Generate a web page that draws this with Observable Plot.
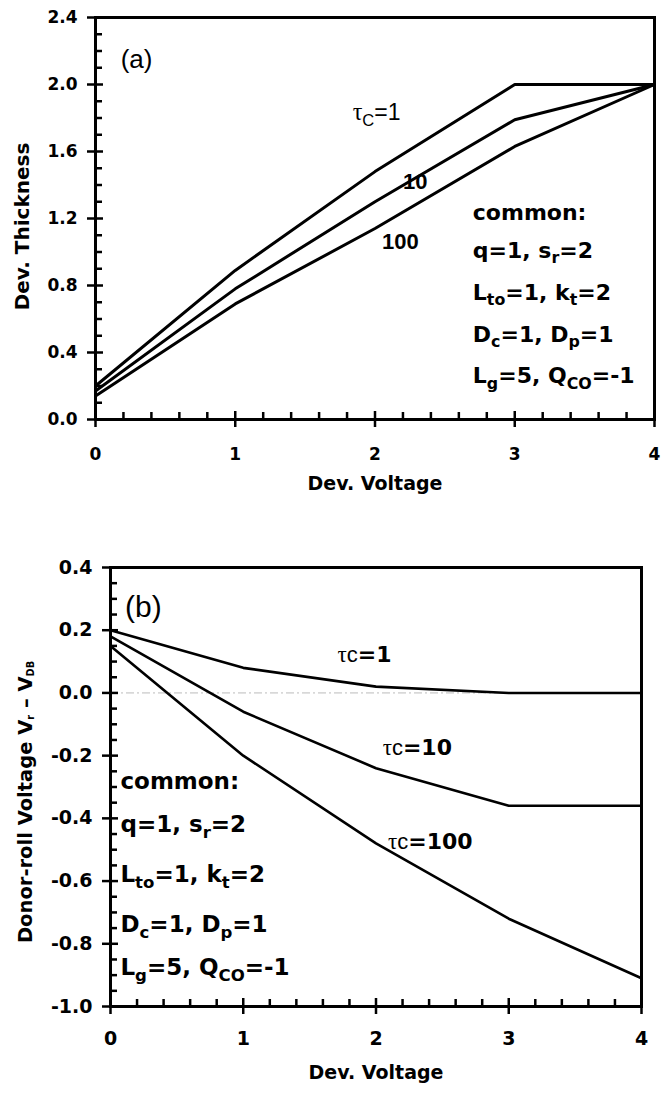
<!DOCTYPE html>
<html><head><meta charset="utf-8">
<script src="https://cdn.jsdelivr.net/npm/d3@7"></script>
<script src="https://cdn.jsdelivr.net/npm/@observablehq/plot@0.6"></script>
<style>
body{margin:0;background:#fff;}
#chart{width:664px;}
svg{display:block;}
</style></head><body><div id="chart"></div>
<script>
// ---- data ----
const voltage = [0, 1, 2, 3, 4];
const tauNames = ["1", "10", "100"];
// panel (a): Dev. Thickness
const thickTau1   = [0.20, 0.89, 1.48, 2.00, 2.00];
const thickTau10  = [0.17, 0.78, 1.30, 1.79, 2.00];
const thickTau100 = [0.14, 0.69, 1.14, 1.63, 2.00];
// panel (b): Donor-roll voltage
const donorTau1   = [0.20, 0.08, 0.02, 0.00, 0.00];
const donorTau10  = [0.18, -0.06, -0.24, -0.36, -0.36];
const donorTau100 = [0.15, -0.20, -0.48, -0.72, -0.91];
// tick labels
const xTicks = [0, 1, 2, 3, 4];
const thickTicks = [0, 0.4, 0.8, 1.2, 1.6, 2.0, 2.4];
const donorTicks = [-1.0, -0.8, -0.6, -0.4, -0.2, 0, 0.2, 0.4];
// texts
const commonLines = ["common:", "q=1, s_{r}=2", "L_{to}=1, k_{t}=2", "D_{c}=1, D_{p}=1", "L_{g}=5, Q_{CO}=-1"];
const topTau1Label = "@{τ}_{C}=1";
const topTauOther = ["10", "100"];
const botTauLabels = ["@{τ}~{c}=1", "@{τ}~{c}=10", "@{τ}~{c}=100"];
// annotation anchors (data units)
const topTau1Anchor = [1.84, 1.83];
const topTauOtherAnchors = [[2.20, 1.42], [2.05, 1.057]];
const topCommonX = 2.70, topCommonY = [1.236, 1.009, 0.758, 0.507, 0.257];
const botTauAnchors = [[1.71, 0.121], [2.05, -0.175], [2.09, -0.475]];
const botCommonX = 0.075, botCommonY = [-0.284, -0.421, -0.581, -0.740, -0.877];

function table(ys, name) { return voltage.map((v, i) => ({x: v, y: ys[i], tau: name})); }
const thickData = [thickTau1, thickTau10, thickTau100].flatMap((s, k) => table(s, tauNames[k]));
const donorData = [donorTau1, donorTau10, donorTau100].flatMap((s, k) => table(s, tauNames[k]));

function minor(lo, hi, step, majors) {
  const n = Math.round((hi - lo) / step);
  const out = [];
  for (let i = 0; i <= n; i++) {
    const v = +(lo + i * step).toFixed(4);
    if (!majors.some(m => Math.abs(m - v) < 1e-6)) out.push(v);
  }
  return out;
}
const xMinor = minor(0, 4, 0.2, xTicks);
const thickMinor = minor(0, 2.4, 0.1, thickTicks);
const donorMinor = minor(-1.0, 0.4, 0.05, donorTicks);

const SANS = "'Liberation Sans', Arial, sans-serif";
const DJ = "'DejaVu Sans', sans-serif";

// tick labels through Plot axes
function axisLabels(yTicks, fs, txPad, tyPad) {
  return [
    Plot.axisX(xTicks, {tickSize: 0, tickPadding: txPad, tickFormat: d => String(d), fontSize: fs, fontWeight: "bold", fontFamily: DJ, label: null}),
    Plot.axisY(yTicks, {tickSize: 0, tickPadding: tyPad, tickFormat: d => d.toFixed(1), fontSize: fs, fontWeight: "bold", fontFamily: DJ, label: null})
  ];
}
// tick marks: rules inset from the frame (majors cross the axis, minors point inward)
function tickMarks(yTicks, yMinor, fw, fh) {
  return [
    Plot.ruleX(xTicks, {x: d => d, insetTop: fh - 16, dy: 8, stroke: "black", strokeWidth: 2.5}),
    Plot.ruleX(xMinor, {x: d => d, insetTop: fh - 7, stroke: "black", strokeWidth: 2.5}),
    Plot.ruleY(yTicks, {y: d => d, insetRight: fw - 16, dx: -8, stroke: "black", strokeWidth: 2.5}),
    Plot.ruleY(yMinor, {y: d => d, insetRight: fw - 7, stroke: "black", strokeWidth: 2.5})
  ];
}

// ---- panel (a) ----
const T = {w: 664, h: 500, ml: 95, mr: 10, mt: 17, mb: 81};
const topPlot = Plot.plot({
  width: T.w, height: T.h,
  marginLeft: T.ml, marginRight: T.mr, marginTop: T.mt, marginBottom: T.mb,
  x: {domain: [0, 4]}, y: {domain: [0, 2.4]},
  style: {background: "white", color: "black", overflow: "visible"},
  marks: [
    ...axisLabels(thickTicks, 17, 28, 18),
    Plot.line(thickData, {x: "x", y: "y", z: "tau", stroke: "black", strokeWidth: 3}),
    Plot.text(["Dev. Voltage"], {frameAnchor: "bottom", dy: 70, text: d => d, textAnchor: "middle", fontSize: 19, fontWeight: "bold", fontFamily: DJ}),
    Plot.text(["Dev. Thickness"], {frameAnchor: "left", dx: -73, dy: 8, rotate: -90, text: d => d, textAnchor: "middle", fontSize: 20, fontWeight: "bold", fontFamily: DJ}),
    Plot.text(["(a)"], {x: [0.18], y: [2.15], text: d => d, textAnchor: "start", fontSize: 26, fontFamily: SANS}),
    Plot.text([topTau1Label], {x: [topTau1Anchor[0]], y: [topTau1Anchor[1]], text: d => d, textAnchor: "start", fontSize: 23, fontFamily: SANS}),
    Plot.text(topTauOther, {x: (d, i) => topTauOtherAnchors[i][0], y: (d, i) => topTauOtherAnchors[i][1], text: d => d, textAnchor: "start", fontSize: 22, fontWeight: "bold", fontFamily: SANS}),
    Plot.text(commonLines, {x: () => topCommonX, y: (d, i) => topCommonY[i], text: d => d, textAnchor: "start", fontSize: 22, fontWeight: "bold", fontFamily: DJ}),
    Plot.frame({stroke: "black", strokeWidth: 3}),
    ...tickMarks(thickTicks, thickMinor, T.w - T.ml - T.mr, T.h - T.mt - T.mb)
  ]
});

// ---- panel (b) ----
const B = {w: 664, h: 595, ml: 110, mr: 23, mt: 67, mb: 89};
const botPlot = Plot.plot({
  width: B.w, height: B.h,
  marginLeft: B.ml, marginRight: B.mr, marginTop: B.mt, marginBottom: B.mb,
  x: {domain: [0, 4]}, y: {domain: [-1.0, 0.4]},
  style: {background: "white", color: "black", overflow: "visible"},
  marks: [
    Plot.ruleY([0], {stroke: "#bbb", strokeWidth: 1, strokeDasharray: "8,3,2,3"}),
    ...axisLabels(donorTicks, 19, 25, 18),
    Plot.line(donorData, {x: "x", y: "y", z: "tau", stroke: "black", strokeWidth: 2.6}),
    Plot.text(["Dev. Voltage"], {frameAnchor: "bottom", dy: 72, text: d => d, textAnchor: "middle", fontSize: 19, fontWeight: "bold", fontFamily: DJ}),
    Plot.text(["Donor-roll Voltage V`{r} – V`{DB}"], {frameAnchor: "left", dx: -85, dy: 15, rotate: -90, text: d => d, textAnchor: "middle", fontSize: 19.5, fontWeight: "bold", fontFamily: DJ}),
    Plot.text(["(b)"], {x: [0.11], y: [0.274], text: d => d, textAnchor: "start", fontSize: 30, fontFamily: SANS}),
    Plot.text(botTauLabels, {x: (d, i) => botTauAnchors[i][0], y: (d, i) => botTauAnchors[i][1], text: d => d, textAnchor: "start", fontSize: 22, fontWeight: "bold", fontFamily: DJ}),
    Plot.text(commonLines, {x: () => botCommonX, y: (d, i) => botCommonY[i], text: d => d, textAnchor: "start", fontSize: 23, fontWeight: "bold", fontFamily: DJ}),
    Plot.frame({stroke: "black", strokeWidth: 3}),
    ...tickMarks(donorTicks, donorMinor, B.w - B.ml - B.mr, B.h - B.mt - B.mb)
  ]
});

const chart = document.getElementById("chart");
chart.appendChild(topPlot);
chart.appendChild(botPlot);

// ---- rich text: _{sub}, `{tiny sub}, ~{normal weight}, @{serif} ----
function parseRich(s) {
  const segs = []; let i = 0, buf = "";
  while (i < s.length) {
    const c = s[i];
    if ("_`~@".includes(c) && s[i + 1] === "{") {
      if (buf) { segs.push({t: buf, k: ""}); buf = ""; }
      const j = s.indexOf("}", i + 2);
      segs.push({t: s.slice(i + 2, j), k: c});
      i = j + 1;
    } else { buf += c; i++; }
  }
  if (buf) segs.push({t: buf, k: ""});
  return segs;
}
function richify(svg) {
  d3.select(svg).selectAll("text").each(function () {
    const s = this.textContent;
    if (!/[_`~@]\{/.test(s)) return;
    const fs = parseFloat(getComputedStyle(this).fontSize) || 16;
    const el = d3.select(this);
    el.text("");
    let cur = 0;
    for (const seg of parseRich(s)) {
      let shift = 0;
      const ts = el.append("tspan").text(seg.t);
      if (seg.k === "_") { shift = 0.25 * fs; ts.attr("font-size", 0.72 * fs); }
      if (seg.k === "`") { shift = 0.12 * fs; ts.attr("font-size", 0.5 * fs); }
      if (seg.k === "~") { ts.attr("font-weight", "normal").attr("font-family", SANS); }
      if (seg.k === "@") { ts.attr("font-weight", "normal").attr("font-family", "'Liberation Serif', 'DejaVu Serif', serif").attr("font-size", 1.05 * fs); }
      const d = shift - cur;
      if (d) ts.attr("dy", d);
      cur = shift;
    }
  });
}
richify(topPlot);
richify(botPlot);
</script>
</body></html>
